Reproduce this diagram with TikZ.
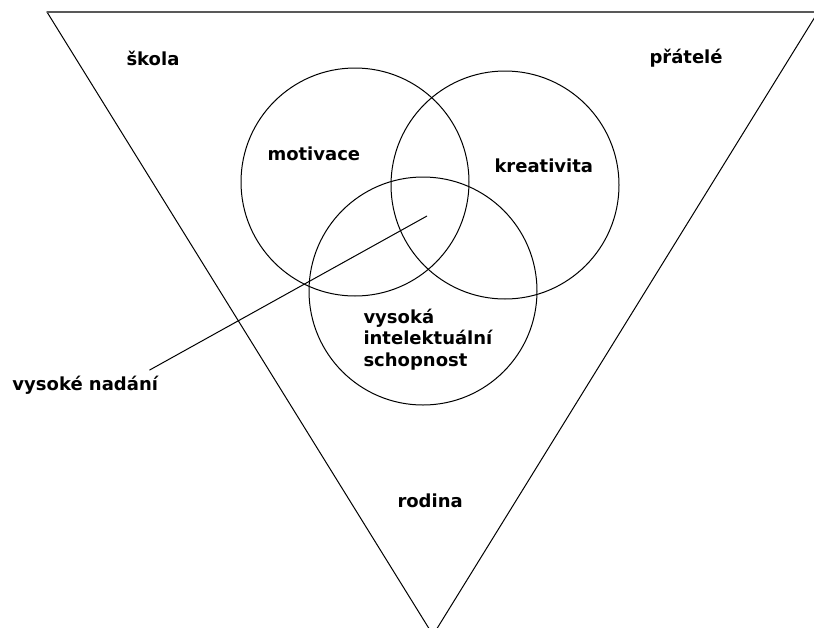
\documentclass[tikz,border=0pt]{standalone}
\usepackage{fontspec}
\setmainfont{DejaVu Sans}
\tikzset{
  popis/.style={font=\bfseries\fontsize{18}{21.5}\selectfont,inner sep=0pt,anchor=base west,align=left},
  kruh/.style={draw,circle,line width=1pt,minimum size=228pt,inner sep=0pt}
}
\begin{document}
\begin{tikzpicture}[x=1pt,y=-1pt,line width=1pt]
 \useasboundingbox (0,0) rectangle (814,627);
 \clip (0,0) rectangle (814,627);
 % prostredi
 \draw (433,635)--(47,12)--(818,12)--cycle;
 \draw[line width=1.4pt,gray!70!black] (47,12)--(818,12);
 % kruhy
 \node[kruh] (motiv) at (355,182) {};
 \node[kruh] (kreat) at (505,185) {};
 \node[kruh] (schop) at (423,291) {};
 \node[popis] (skola) at (126,65) {škola};
 \node[popis] (pratele) at (649,63) {přátelé};
 \node[popis] (rodina) at (397,507) {rodina};
 \node[popis] (tmotiv) at (267,160) {motivace};
 \node[popis] (tkreat) at (494,172) {kreativita};
 \node[popis] (tschop) at (363,366) {vysoká\\intelektuální\\schopnost};
 \node[popis] (nadani) at (12,390) {vysoké nadání};
 \coordinate (jadro) at (427,216);
 \draw (jadro)--([shift={(-9,-5)}]nadani.north east);
\end{tikzpicture}
\end{document}
